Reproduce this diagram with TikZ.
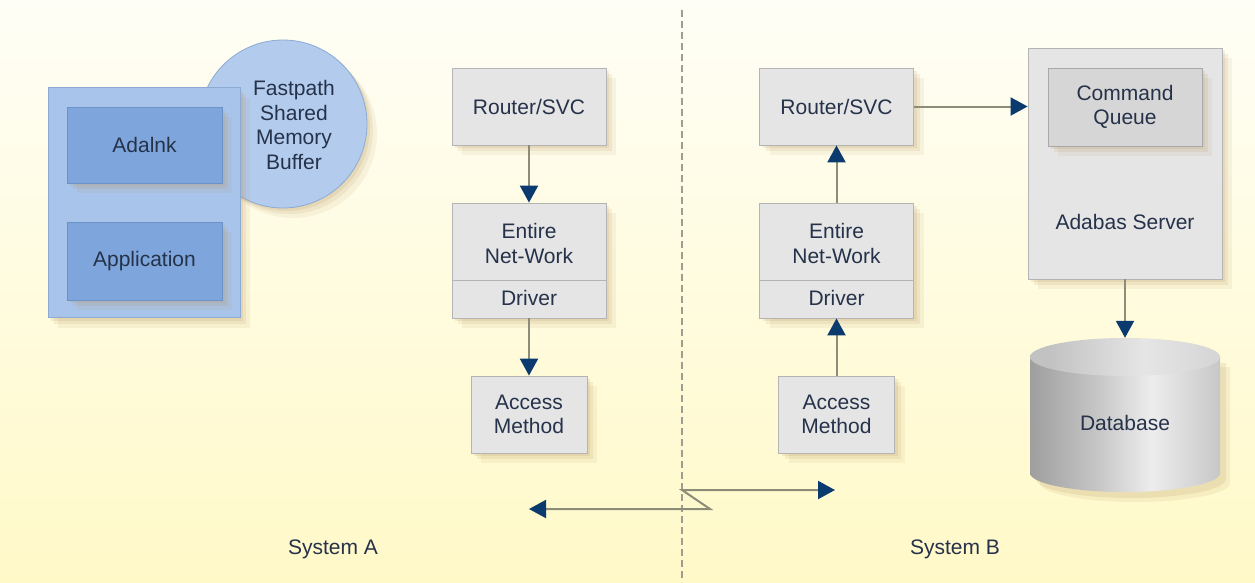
\documentclass[tikz,border=0pt]{standalone}
\usepackage{fontspec}
\setmainfont{Liberation Sans}
\usetikzlibrary{arrows.meta,shadows,calc}
\definecolor{bgtop}{HTML}{FFFEF6}
\definecolor{bgbot}{HTML}{FFF9C8}
\definecolor{txt}{HTML}{25324A}
\definecolor{grayfill}{HTML}{E5E5E5}
\definecolor{grayline}{HTML}{B4B4B4}
\definecolor{cqfill}{HTML}{D6D6D6}
\definecolor{cqline}{HTML}{A8A8A8}
\definecolor{bluefill}{HTML}{A8C4EA}
\definecolor{blueline}{HTML}{8CAAD2}
\definecolor{innerfill}{HTML}{7FA6DC}
\definecolor{innerline}{HTML}{6C92C8}
\definecolor{circfill}{HTML}{B3CCEE}
\definecolor{shadowcol}{HTML}{B8945E}
\definecolor{linecol}{HTML}{8C8C78}
\definecolor{tipcol}{HTML}{0B3A6E}
\definecolor{dashcol}{HTML}{A09C90}
\pgfdeclarehorizontalshading{cylbody}{100bp}{color(0bp)=(black!38); color(25bp)=(black!38); color(43bp)=(black!22); color(57bp)=(black!7); color(75bp)=(black!22); color(100bp)=(black!36)}
\pgfdeclarehorizontalshading{cyltop}{100bp}{color(0bp)=(black!24); color(30bp)=(black!24); color(55bp)=(black!10); color(70bp)=(black!15); color(100bp)=(black!24)}
\tikzset{
  softshadow/.style={
    general shadow={fill=shadowcol, opacity=0.16, shadow xshift=3pt, shadow yshift=-3pt},
    general shadow={fill=shadowcol, opacity=0.13, shadow xshift=6pt, shadow yshift=-6pt},
    general shadow={fill=shadowcol, opacity=0.10, shadow xshift=10pt, shadow yshift=-10pt}},
  graybox/.style={draw=grayline, fill=grayfill, line width=0.8pt, inner sep=0pt, align=center, text=txt, softshadow},
  bluebox/.style={draw=innerline, fill=innerfill, line width=0.8pt, inner sep=0pt, align=center, text=txt, softshadow},
  plain/.style={inner sep=0pt, align=center, text=txt},
  conn/.style={draw=linecol, line width=2pt, -{Triangle[length=17pt,width=18pt,color=tipcol]}},
  biconn/.style={draw=linecol, line width=2pt, {Triangle[length=17pt,width=18pt,color=tipcol]}-{Triangle[length=17pt,width=18pt,color=tipcol]}},
}
\begin{document}
\begin{tikzpicture}[x=1pt,y=-1pt,font=\fontsize{21}{24.5}\selectfont]
% background
\shade[top color=bgtop, bottom color=bgbot, shading angle=0] (0,0) rectangle (1255,582);
\useasboundingbox (0,0) rectangle (1255,582);
% divider
\coordinate (dtop) at (682,10);
\coordinate (dbot) at (682,582);
\draw[dashcol, line width=1.8pt, dash pattern=on 7pt off 4pt] (dtop) -- (dbot);

% ---- left group
\node[circle, draw=blueline, fill=circfill, line width=0.8pt, minimum size=168pt, inner sep=0pt, softshadow] (buf) at (283,124) {};
\node[plain] (buftext) at (294,125) {Fastpath\\Shared\\Memory\\Buffer};
\node[draw=blueline, fill=bluefill, line width=0.8pt, minimum width=192pt, minimum height=230pt, inner sep=0pt, softshadow] (prog) at (144,202.5) {};
\node[bluebox, minimum width=155pt, minimum height=76pt] (adalnk) at (144.5,145) {Adalnk};
\node[bluebox, minimum width=155pt, minimum height=78pt] (app) at (144.5,261) {Application};

% ---- system A column
\node[graybox, minimum width=154pt, minimum height=77pt] (ra) at (529,106.5) {Router/SVC};
\node[graybox, minimum width=154pt, minimum height=115pt] (ea) at (529,260.5) {};
\draw[grayline, line width=0.8pt] (ea.west |- 0,280) -- (ea.east |- 0,280);
\node[plain] (eat) at (529,243.5) {Entire\\Net-Work};
\node[plain] (eda) at (529,298) {Driver};
\node[graybox, minimum width=116pt, minimum height=77pt] (aa) at (529,414.5) {Access\\Method};
\draw[conn] (ra.south) -- (ea.north);
\draw[conn] (ea.south) -- (aa.north);

% ---- system B column
\node[graybox, minimum width=154pt, minimum height=77pt] (rb) at (836.5,106.5) {Router/SVC};
\node[graybox, minimum width=154pt, minimum height=115pt] (eb) at (836.5,260.5) {};
\draw[grayline, line width=0.8pt] (eb.west |- 0,280) -- (eb.east |- 0,280);
\node[plain] (ebt) at (836.5,243.5) {Entire\\Net-Work};
\node[plain] (edb) at (836.5,298) {Driver};
\node[graybox, minimum width=116pt, minimum height=77pt] (ab) at (836.5,414.5) {Access\\Method};
\draw[conn] (ab.north) -- (eb.south);
\draw[conn] (eb.north) -- (rb.south);

% ---- Adabas server
\node[graybox, minimum width=194pt, minimum height=231pt] (ada) at (1125,163.5) {};
\node[draw=cqline, fill=cqfill, line width=0.8pt, minimum width=154pt, minimum height=78pt, inner sep=0pt, align=center, text=txt, softshadow] (cq) at (1125,107) {Command\\Queue};
\node[plain] (adat) at (1125,222) {Adabas Server};
\draw[conn] (rb.east) -- (rb.east -| ada.west);

% ---- database cylinder
\fill[shadowcol, opacity=0.16] (1036,363) -- (1036,479) arc[start angle=180, end angle=360, x radius=95pt, y radius=19pt] -- (1226,363) -- cycle;
\fill[shadowcol, opacity=0.12] (1040,367) -- (1040,483) arc[start angle=180, end angle=360, x radius=95pt, y radius=19pt] -- (1230,367) -- cycle;
\shade[shading=cylbody] (1030,357) -- (1030,473) arc[start angle=180, end angle=360, x radius=95pt, y radius=19pt] -- (1220,357) -- cycle;
\shade[shading=cyltop] (1125,357) ellipse[x radius=95pt, y radius=19pt];
\node[plain, minimum width=190pt, minimum height=154pt] (db) at (1125,415) {};
\node[plain] (dbt) at (1125,423) {Database};
\draw[conn] (ada.south) -- (db.north);

% ---- network link
\coordinate (wl) at (529,509);
\coordinate (wm) at (710,509);
\coordinate (wn) at (682,490);
\coordinate (wr) at (835,490);
\draw[biconn] (wl) -- (wm) -- (wn) -- (wr);

% ---- labels
\node[plain] (sysa) at (333,549) {System A};
\node[plain] (sysb) at (955,549) {System B};
\end{tikzpicture}
\end{document}
